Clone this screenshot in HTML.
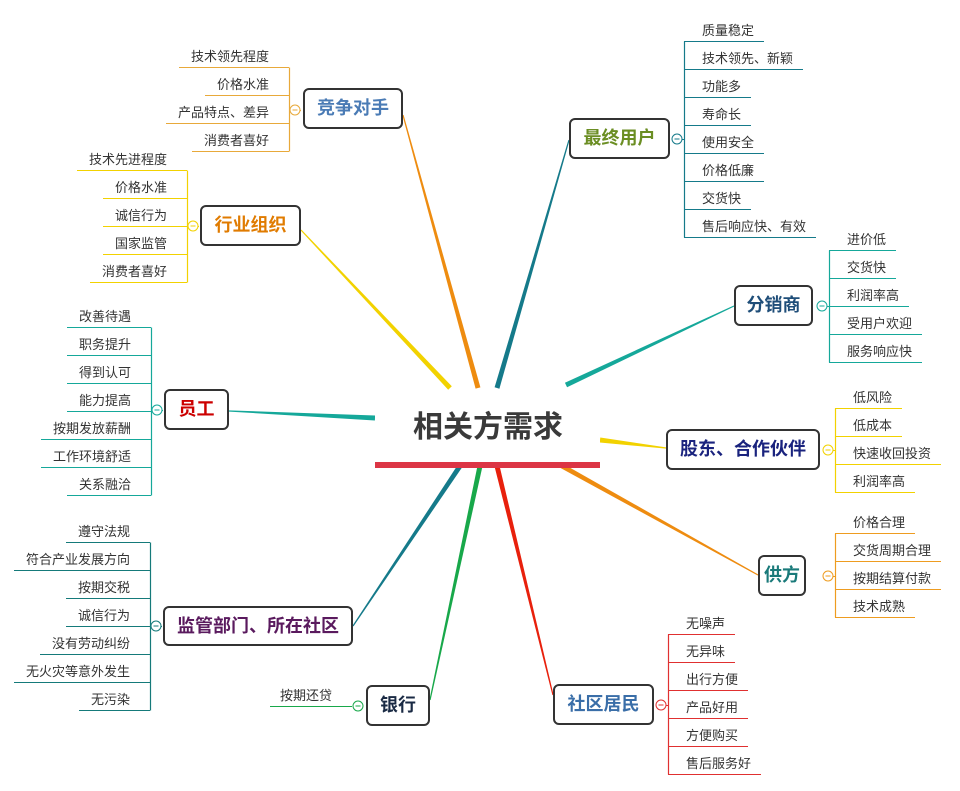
<!DOCTYPE html>
<html><head><meta charset="utf-8"><style>
html,body{margin:0;padding:0;background:#fff;}
#c{position:relative;width:960px;height:791px;overflow:hidden;font-family:"Liberation Sans","Noto Sans CJK SC",sans-serif;}
.leaf{position:absolute;height:20px;line-height:20px;font-size:13px;color:#333;white-space:nowrap;border-bottom:1px solid;box-sizing:content-box;}
.topic{position:absolute;border:2px solid #333;border-radius:6px;background:#fff;box-sizing:border-box;font-size:18px;font-weight:bold;text-align:center;white-space:nowrap;}
svg{position:absolute;left:0;top:0;}
</style></head><body><div id="c">
<svg id="s" width="960" height="791"></svg>
</div>
<script>
var c=document.getElementById('c'),s=document.getElementById('s');
var NS='http://www.w3.org/2000/svg';
function el(t,a){var e=document.createElementNS(NS,t);for(var k in a)e.setAttribute(k,a[k]);s.appendChild(e);return e;}
function taper(x1,y1,x2,y2,w1,w2,col){var dx=x2-x1,dy=y2-y1,L=Math.sqrt(dx*dx+dy*dy),nx=-dy/L,ny=dx/L;
el('polygon',{points:[x1+nx*w1/2,y1+ny*w1/2,x2+nx*w2/2,y2+ny*w2/2,x2-nx*w2/2,y2-ny*w2/2,x1-nx*w1/2,y1-ny*w1/2].join(','),fill:col});}
taper(478,388,403,115,5,1.2,'#ee8c10');
taper(450,388,301,230,5,1.2,'#f2d200');
taper(375,418,229,411,5,1.2,'#15a89a');
taper(460,466,353,626,5,1.2,'#157a8a');
taper(480,466,430,700,5,1.2,'#18a84a');
taper(497,466,553,695,5,1.2,'#e8200c');
taper(562,466,758,575,5,1.2,'#ee8c10');
taper(600,440,666,448,5,1.2,'#f2d200');
taper(566,385,734,306,5,1.2,'#15a89a');
taper(497,388,569,140,5,1.2,'#157a8a');
el('rect',{x:375,y:390,width:225,height:72,fill:'#fff'});
el('rect',{x:375,y:462,width:225,height:6,fill:'#dc3545'});
var t=el('text',{x:488,y:437,'text-anchor':'middle','font-size':'30','font-weight':'bold',fill:'#3a3a3a','font-family':'Liberation Sans,Noto Sans CJK SC,sans-serif'});t.textContent='相关方需求';
function topic(x1,y1,x2,y2,txt,col){var d=document.createElement('div');d.className='topic';d.style.left=x1+'px';d.style.top=y1+'px';d.style.width=(x2-x1)+'px';d.style.height=(y2-y1)+'px';d.style.lineHeight=(y2-y1-4)+'px';d.style.color=col;d.textContent=txt;c.appendChild(d);}
function group(side,bx,cy0,items,col,cx,cy){
 var n=items.length;
 items.forEach(function(tx,i){var d=document.createElement('div');d.className='leaf';d.textContent=tx;d.style.borderColor=col;
  var ul=cy0+i*28+12;d.style.top=(ul-20)+'px';
  if(side=='r'){d.style.left=bx+'px';d.style.paddingLeft='18px';d.style.paddingRight='10px';}
  else{d.style.right=(960-bx)+'px';d.style.paddingRight='20px';d.style.paddingLeft='12px';}
  c.appendChild(d);});
 el('line',{x1:bx+0.5,y1:cy0+12.5,x2:bx+0.5,y2:cy0+(n-1)*28+12.5,stroke:col,'stroke-width':1.2});
 var lx=side=='r'?bx-12:bx;
 el('line',{x1:lx,y1:cy+0.5,x2:lx+12,y2:cy+0.5,stroke:col,'stroke-width':1});
 var ccx=side=='r'?bx-7:bx+6;
 el('circle',{cx:ccx,cy:cy,r:5,fill:'#fff',stroke:col,'stroke-width':1});
 el('line',{x1:ccx-2.5,y1:cy,x2:ccx+2.5,y2:cy,stroke:col,'stroke-width':1});
}
group('l',289,55,['技术领先程度','价格水准','产品特点、差异','消费者喜好'],'#e8a93a',0,110);
group('l',187,158,['技术先进程度','价格水准','诚信行为','国家监管','消费者喜好'],'#f2d200',0,226);
group('l',151,315,['改善待遇','职务提升','得到认可','能力提高','按期发放薪酬','工作环境舒适','关系融洽'],'#15a89a',0,410);
group('l',150,530,['遵守法规','符合产业发展方向','按期交税','诚信行为','没有劳动纠纷','无火灾等意外发生','无污染'],'#157a7a',0,626);
group('r',684,29,['质量稳定','技术领先、新颖','功能多','寿命长','使用安全','价格低廉','交货快','售后响应快、有效'],'#157a8a',0,139);
group('r',829,238,['进价低','交货快','利润率高','受用户欢迎','服务响应快'],'#15a89a',0,306);
group('r',835,396,['低风险','低成本','快速收回投资','利润率高'],'#f2d200',0,450);
group('r',835,521,['价格合理','交货周期合理','按期结算付款','技术成熟'],'#ee9c20',0,576);
group('r',668,622,['无噪声','无异味','出行方便','产品好用','方便购买','售后服务好'],'#e03030',0,705);
(function(){var d=document.createElement('div');d.className='leaf';d.textContent='按期还贷';d.style.borderColor='#18a84a';d.style.top='686px';d.style.left='270px';d.style.paddingLeft='10px';d.style.width='72px';c.appendChild(d);
el('circle',{cx:358,cy:706,r:5,fill:'#fff',stroke:'#18a84a'});el('line',{x1:355.5,y1:706,x2:360.5,y2:706,stroke:'#18a84a'});})();
topic(303,88,403,129,'竞争对手','#4a7bb5');
topic(200,205,301,246,'行业组织','#e07b00');
topic(164,389,229,430,'员工','#cc0000');
topic(163,606,353,646,'监管部门、所在社区','#5a1a5e');
topic(366,685,430,726,'银行','#1a2a44');
topic(553,684,654,725,'社区居民','#3a6ea8');
topic(758,555,806,596,'供方','#1a7a7a');
topic(666,429,820,470,'股东、合作伙伴','#1a237e');
topic(734,285,813,326,'分销商','#1f4e79');
topic(569,118,670,159,'最终用户','#6b8e23');
</script>
</body></html>
